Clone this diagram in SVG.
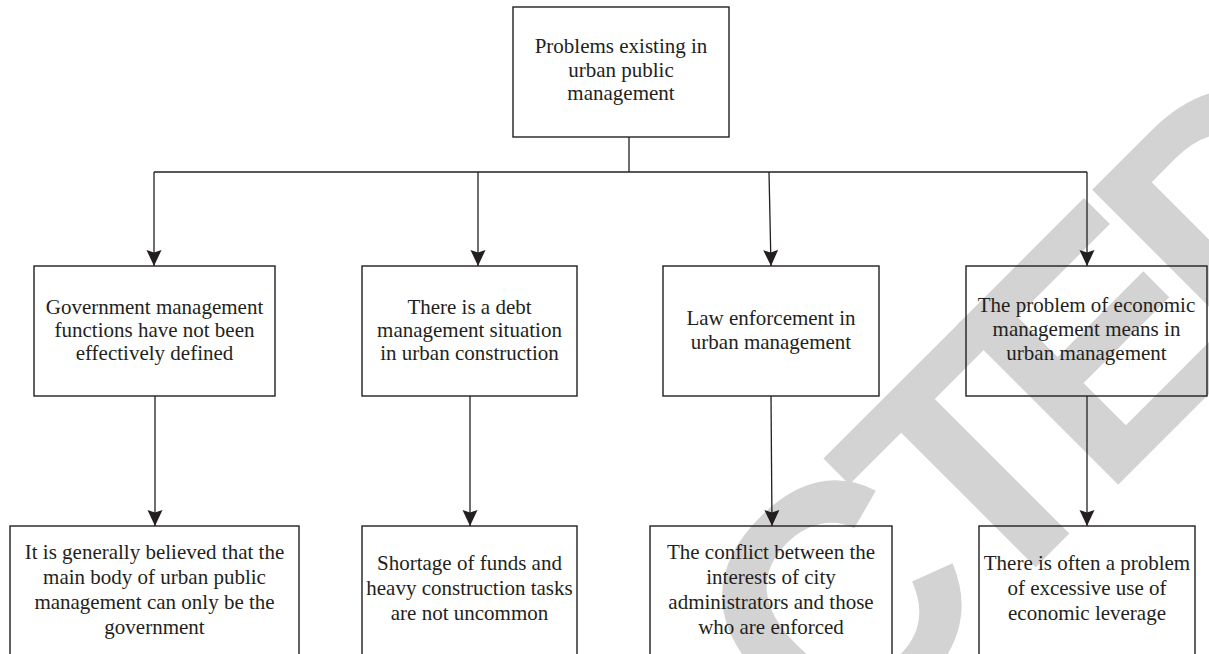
<svg xmlns="http://www.w3.org/2000/svg" width="1209" height="654" viewBox="0 0 1209 654">
<defs>
<marker id="ah" markerWidth="16" markerHeight="16" refX="16" refY="8" orient="auto" markerUnits="userSpaceOnUse">
<path d="M0,0.5 L16,8 L0,15.5 L2.5,8 Z" fill="#231f20"/>
</marker>
<style>
.box{fill:none;stroke:#231f20;stroke-width:1.4}
.t{font-family:"Liberation Serif","Times New Roman",serif;font-size:21px;fill:#231f20;text-anchor:middle}
.c{fill:none;stroke:#231f20;stroke-width:1.3}
.a{fill:none;stroke:#231f20;stroke-width:1.3;marker-end:url(#ah)}
.wm{font-family:"Liberation Sans",Arial,sans-serif;font-weight:bold;font-size:330px;letter-spacing:-30px;fill:#d3d3d3}
</style>
</defs>
<rect width="1209" height="654" fill="#ffffff"/>
<g id="watermark">
<text class="wm" transform="translate(834,769) rotate(-45)" x="0" y="0">CTED</text>
</g>
<g id="connectors">
<path class="c" d="M629,137 V172 M154,172 H1087"/>
<path class="a" d="M154,172 V266"/>
<path class="a" d="M478,172 V266"/>
<path class="a" d="M769,172 L771,266"/>
<path class="a" d="M1087,172 V266"/>
<path class="a" d="M155,396 V526"/>
<path class="a" d="M470,396 V526"/>
<path class="a" d="M771,396 L772,526"/>
<path class="a" d="M1087,396 V526"/>
</g>
<g id="n0">
<rect class="box" x="513" y="7" width="216" height="130"/>
<text class="t" x="621" y="53">Problems existing in</text>
<text class="t" x="621" y="77">urban public</text>
<text class="t" x="621" y="100">management</text>
</g>
<g id="n1">
<rect class="box" x="34" y="266" width="241" height="130"/>
<text class="t" x="154.5" y="314">Government management</text>
<text class="t" x="154.5" y="337">functions have not been</text>
<text class="t" x="154.5" y="360">effectively defined</text>
</g>
<g id="n2">
<rect class="box" x="362" y="266" width="215" height="130"/>
<text class="t" x="469.5" y="314">There is a debt</text>
<text class="t" x="469.5" y="337">management situation</text>
<text class="t" x="469.5" y="360">in urban construction</text>
</g>
<g id="n3">
<rect class="box" x="663" y="266" width="216" height="130"/>
<text class="t" x="771" y="325">Law enforcement in</text>
<text class="t" x="771" y="349">urban management</text>
</g>
<g id="n4">
<rect class="box" x="966" y="266" width="241" height="130"/>
<text class="t" x="1086.5" y="312">The problem of economic</text>
<text class="t" x="1086.5" y="336">management means in</text>
<text class="t" x="1086.5" y="360">urban management</text>
</g>
<g id="n5">
<rect class="box" x="10" y="526" width="289" height="160"/>
<text class="t" x="154.5" y="559">It is generally believed that the</text>
<text class="t" x="154.5" y="584">main body of urban public</text>
<text class="t" x="154.5" y="609">management can only be the</text>
<text class="t" x="154.5" y="634">government</text>
</g>
<g id="n6">
<rect class="box" x="362" y="526" width="215" height="160"/>
<text class="t" x="469.5" y="570">Shortage of funds and</text>
<text class="t" x="469.5" y="595">heavy construction tasks</text>
<text class="t" x="469.5" y="620">are not uncommon</text>
</g>
<g id="n7">
<rect class="box" x="650" y="526" width="242" height="160"/>
<text class="t" x="771" y="559">The conflict between the</text>
<text class="t" x="771" y="584">interests of city</text>
<text class="t" x="771" y="609">administrators and those</text>
<text class="t" x="771" y="634">who are enforced</text>
</g>
<g id="n8">
<rect class="box" x="979" y="526" width="216" height="160"/>
<text class="t" x="1087" y="570">There is often a problem</text>
<text class="t" x="1087" y="595">of excessive use of</text>
<text class="t" x="1087" y="620">economic leverage</text>
</g>
</svg>
